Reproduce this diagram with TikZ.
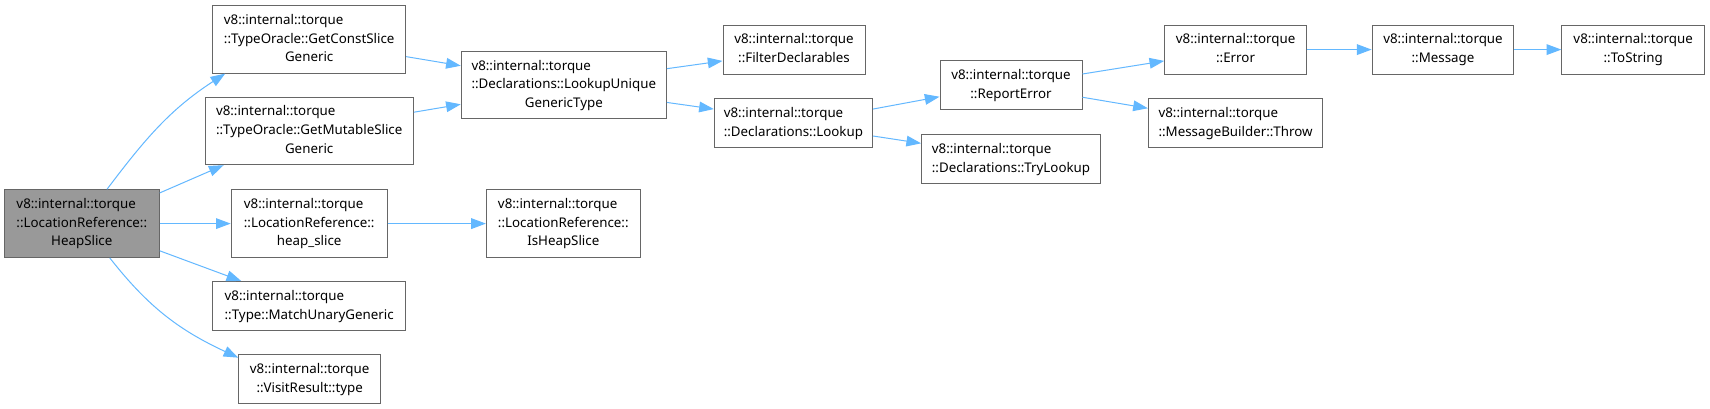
\documentclass[tikz,border=0pt]{standalone}
\usepackage{fontspec}
\setmainfont{Noto Sans}
\usetikzlibrary{arrows.meta}
\definecolor{edgeblue}{HTML}{63B8FF}
\definecolor{boxgray}{HTML}{666666}
\definecolor{fillgray}{HTML}{999999}
\newcommand{\lbltwo}[2]{\begin{tabular}{@{}l@{}}#1\\\multicolumn{1}{@{}c@{}}{#2}\end{tabular}}
\newcommand{\lblthree}[3]{\begin{tabular}{@{}l@{}}#1\\#2\\\multicolumn{1}{@{}c@{}}{#3}\end{tabular}}
\begin{document}
\begin{tikzpicture}[x=0.75pt,y=-0.75pt,
  box/.style={draw=boxgray, line width=0.75pt, fill=white, inner sep=0pt,
    font=\fontsize{10}{14}\selectfont, text=black},
  tall/.style={box, minimum height=50.7pt},
  short/.style={box, minimum height=36.75pt},
  edge/.style={draw=edgeblue, line width=0.75pt, -{Triangle[length=11pt,width=8pt]}}]
\useasboundingbox (0,0) rectangle (1710,409);
\fill[white] (0,0) rectangle (1710,409);

\node[tall, fill=fillgray, minimum width=116.1pt] (hs) at (81.8,223.6) {\lblthree{v8::internal::torque}{::LocationReference::}{HeapSlice}};
\node[tall, minimum width=144.75pt] (gc) at (309.2,39.3) {\lblthree{v8::internal::torque}{::TypeOracle::GetConstSlice}{Generic}};
\node[tall, minimum width=156.2pt] (gm) at (309.2,130.9) {\lblthree{v8::internal::torque}{::TypeOracle::GetMutableSlice}{Generic}};
\node[tall, minimum width=117pt] (hsl) at (309.2,223.6) {\lblthree{v8::internal::torque}{::LocationReference::}{heap\_slice}};
\node[short, minimum width=144.75pt] (mu) at (309.2,306) {\lbltwo{v8::internal::torque}{::Type::MatchUnaryGeneric}};
\node[short, minimum width=106.35pt] (vr) at (309.7,379) {\lbltwo{v8::internal::torque}{::VisitResult::type}};
\node[tall, minimum width=153.8pt] (lu) at (563.8,85.1) {\lblthree{v8::internal::torque}{::Declarations::LookupUnique}{GenericType}};
\node[tall, minimum width=115.35pt] (ih) at (563.3,223.6) {\lblthree{v8::internal::torque}{::LocationReference::}{IsHeapSlice}};
\node[short, minimum width=106.5pt] (fd) at (794,49.6) {\lbltwo{v8::internal::torque}{::FilterDeclarables}};
\node[short, minimum width=118.65pt] (lk) at (793.4,123.2) {\lbltwo{v8::internal::torque}{::Declarations::Lookup}};
\node[short, minimum width=106.5pt] (re) at (1011,85) {\lbltwo{v8::internal::torque}{::ReportError}};
\node[short, minimum width=134.1pt] (tl) at (1011,159.2) {\lbltwo{v8::internal::torque}{::Declarations::TryLookup}};
\node[short, minimum width=106.35pt] (er) at (1235.6,49.6) {\lbltwo{v8::internal::torque}{::Error}};
\node[short, minimum width=130.9pt] (th) at (1235.6,123.2) {\lbltwo{v8::internal::torque}{::MessageBuilder::Throw}};
\node[short, minimum width=106.35pt] (ms) at (1443,49.6) {\lbltwo{v8::internal::torque}{::Message}};
\node[short, minimum width=107.1pt] (ts) at (1633.2,49.6) {\lbltwo{v8::internal::torque}{::ToString}};

\draw[edge] ([xshift=18.9pt]hs.north) to[out=53,in=213] ([xshift=-63pt]gc.south);
\draw[edge] ([yshift=23pt]hs.east) -- ([xshift=-64.2pt]gm.south);
\draw[edge] (hs.east) -- (hsl.west);
\draw[edge] ([yshift=-20.4pt]hs.east) -- ([xshift=-51pt]mu.north);
\draw[edge] ([xshift=21pt]hs.south) to[out=-52,in=155] ([yshift=16pt]vr.west);
\draw[edge] ([yshift=-13pt]gc.east) -- ([yshift=14.5pt]lu.west);
\draw[edge] ([yshift=14pt]gm.east) -- ([yshift=-14.4pt]lu.west);
\draw[edge] (hsl.east) -- (ih.west);
\draw[edge] ([yshift=12.3pt]lu.east) -- ([yshift=-8.5pt]fd.west);
\draw[edge] ([yshift=-13pt]lu.east) -- ([yshift=10.6pt]lk.west);
\draw[edge] ([yshift=10.6pt]lk.east) -- ([yshift=-8.8pt]re.west);
\draw[edge] ([yshift=-9.6pt]lk.east) -- ([yshift=11.9pt]tl.west);
\draw[edge] ([yshift=8.25pt]re.east) -- ([yshift=-8.5pt]er.west);
\draw[edge] ([yshift=-9.2pt]re.east) -- ([yshift=11.2pt]th.west);
\draw[edge] (er.east) -- (ms.west);
\draw[edge] (ms.east) -- (ts.west);
\end{tikzpicture}
\end{document}
